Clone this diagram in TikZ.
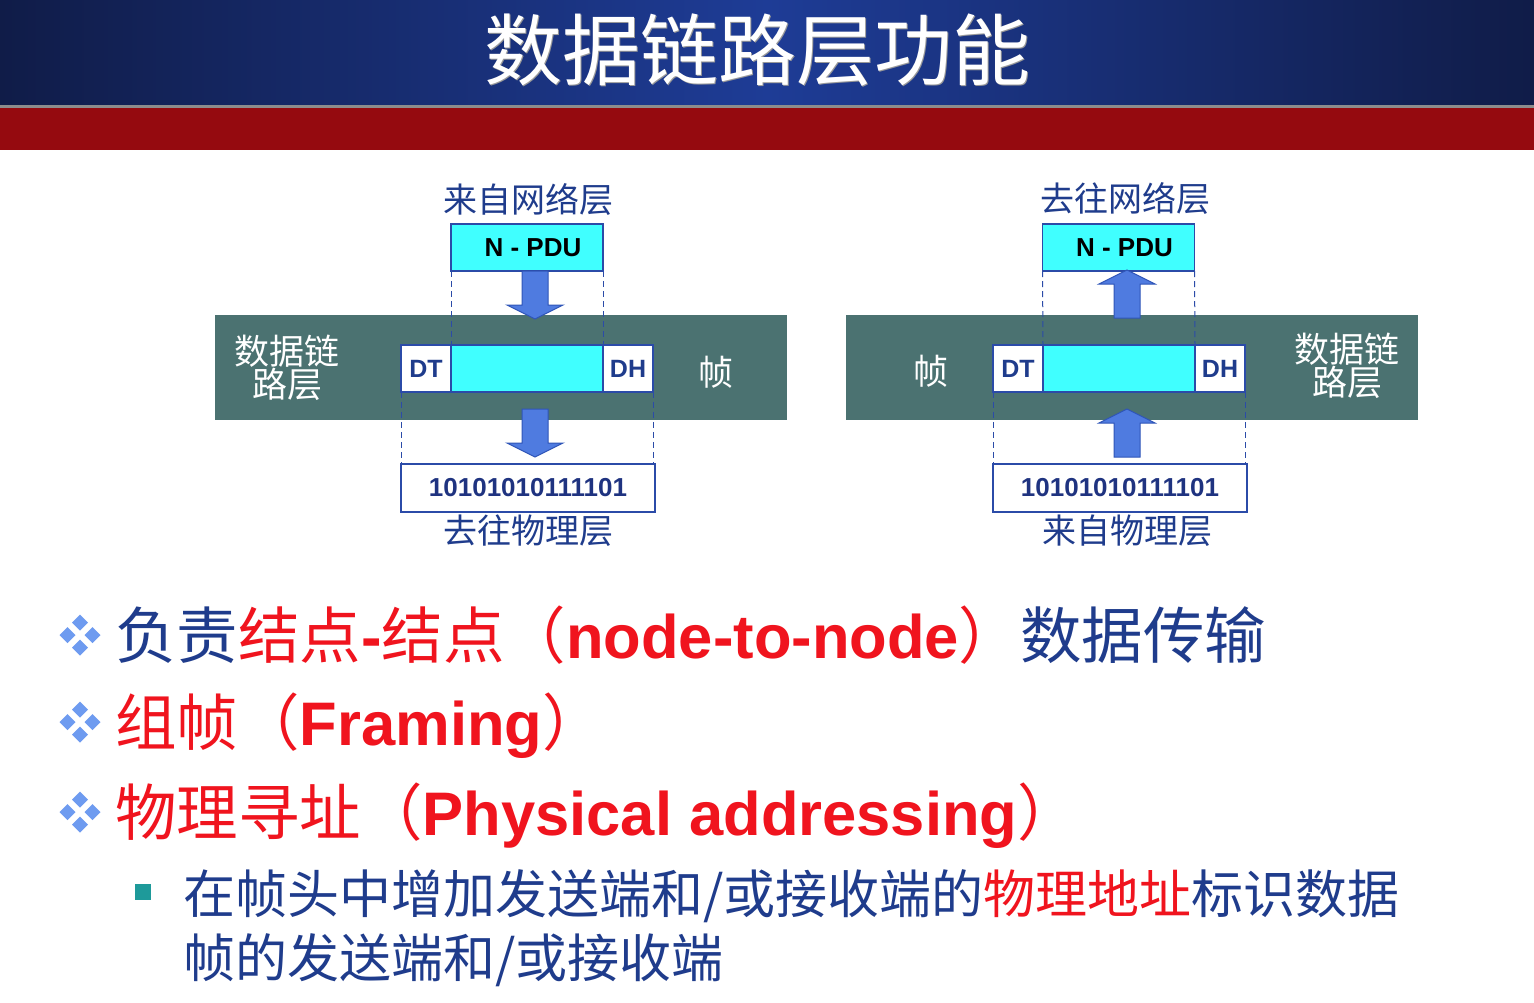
\documentclass[tikz,border=0pt]{standalone}
\usepackage{fontspec}
\setmainfont{Liberation Sans}
\newfontfamily\cjk{Noto Sans CJK SC}
\definecolor{tblue}{HTML}{1F3C8C}
\definecolor{tred}{HTML}{F0141E}
\definecolor{bandc}{HTML}{4B7271}
\definecolor{cyanc}{HTML}{40FFFF}
\definecolor{boxline}{HTML}{2B4BA8}
\definecolor{bitsblue}{HTML}{1F3380}
\definecolor{arrowfill}{HTML}{4F7BE0}
\definecolor{arrowline}{HTML}{2F55B8}
\definecolor{titleedge}{HTML}{101C48}
\definecolor{titlemid}{HTML}{1E3C96}
\definecolor{redband}{HTML}{950A0F}
\definecolor{tealc}{HTML}{1E9A9A}
\definecolor{diamondc}{HTML}{6E9BF0}
\begin{document}
\begin{tikzpicture}[x=1pt,y=-1pt,
  band/.style={fill=bandc, draw=none, minimum width=572pt, minimum height=105pt, inner sep=0pt},
  pdubox/.style={draw=boxline, line width=1.5pt, fill=cyanc, minimum width=152pt, minimum height=47pt,
    inner sep=0pt, outer sep=0pt, font=\fontsize{26}{30}\selectfont\bfseries, text=black},
  endbox/.style={draw=boxline, line width=1.5pt, fill=white, minimum width=50pt, minimum height=47pt,
    inner sep=0pt, outer sep=0pt, font=\fontsize{25}{30}\selectfont\bfseries, text=tblue},
  midbox/.style={draw=boxline, line width=1.5pt, fill=cyanc, minimum width=152pt, minimum height=47pt,
    inner sep=0pt, outer sep=0pt},
  bitsbox/.style={draw=boxline, line width=1.5pt, fill=white, minimum width=254pt, minimum height=48pt,
    inner sep=0pt, outer sep=0pt, font=\fontsize{26}{30}\selectfont\bfseries, text=bitsblue},
  guide/.style={draw=boxline, line width=1pt, dash pattern=on 6pt off 4pt},
  layerlabel/.style={font=\cjk\fontsize{34}{40}\selectfont, text=tblue, inner sep=0pt},
  bandlabel/.style={font=\cjk\fontsize{35}{33}\selectfont, text=white, align=center, inner sep=0pt},
  bulletline/.style={anchor=base west, inner sep=0pt, font=\fontsize{61.5}{70}\selectfont},
  subline/.style={anchor=base west, inner sep=0pt, font=\cjk\fontsize{52}{64}\selectfont, text=tblue},
  blockarrow/.pic={\path[fill=arrowfill, draw=arrowline, line width=1pt]
    (-13,0) -- (13,0) -- (13,34) -- (28,34) -- (0,48) -- (-28,34) -- (-13,34) -- cycle;},
  fourdiamond/.pic={\foreach \dx/\dy in {0/-12.5,-12.5/0,12.5/0,0/12.5}
    \fill[diamondc] (\dx,\dy) ++(0,-8) -- ++(8,8) -- ++(-8,8) -- ++(-8,-8) -- cycle;}
]
\useasboundingbox (0,0) rectangle (1534,1002);
\fill[white] (0,0) rectangle (1534,1002);

% header: blue gradient with title, grey rule, red band
\shade[left color=titleedge, right color=titleedge, middle color=titlemid] (0,0) rectangle (1534,106);
\fill[black!45!white] (0,105) rectangle (1534,108);
\fill[redband] (0,108) rectangle (1534,150);
\node[font=\cjk\fontsize{78}{80}\selectfont, text=black!40] (titleshadow) at (758.5,51.5) {数据链路层功能};
\node[font=\cjk\fontsize{78}{80}\selectfont, text=white] (title) at (757,50) {数据链路层功能};

% ---------- sending side ----------
\node[band] (bandL) at (501,367.5) {};
\node[bandlabel] (dllL) at (287,368) {数据链\\路层};
\node[bandlabel] (frameL) at (716,372) {帧};
\node[layerlabel] (fromNet) at (528,200) {来自网络层};
\node[pdubox] (npduL) at (527,247.5) {\hspace*{12pt}N - PDU};
\node[endbox] (dtL) at (426,368.5) {DT};
\node[midbox, anchor=west] (midL) at (dtL.east) {};
\node[endbox, anchor=west] (dhL) at (midL.east) {DH};
\node[bitsbox] (bitsL) at (528,488) {10101010111101};
\node[layerlabel] (toPhy) at (528,531) {去往物理层};
\draw[guide] (npduL.south west) -- (midL.north west);
\draw[guide] (npduL.south east) -- (midL.north east);
\draw[guide] (dtL.south west) -- (dtL.south west |- bitsL.north);
\draw[guide] (dhL.south east) -- (dhL.south east |- bitsL.north);
\pic at (535,271) {blockarrow};
\pic at (535,409) {blockarrow};

% ---------- receiving side ----------
\node[band] (bandR) at (1132,367) {};
\node[bandlabel] (frameR) at (931,371) {帧};
\node[bandlabel] (dllR) at (1347,366) {数据链\\路层};
\node[layerlabel] (toNet) at (1125,199) {去往网络层};
\node[pdubox] (npduR) at (1118.5,247.5) {\hspace*{12pt}N - PDU};
\node[endbox] (dtR) at (1018,368.5) {DT};
\node[midbox, anchor=west] (midR) at (dtR.east) {};
\node[endbox, anchor=west] (dhR) at (midR.east) {DH};
\node[bitsbox] (bitsR) at (1120,488) {10101010111101};
\node[layerlabel] (fromPhy) at (1127,531) {来自物理层};
\draw[guide] (npduR.south west) -- (midR.north west);
\draw[guide] (npduR.south east) -- (midR.north east);
\draw[guide] (dtR.south west) -- (dtR.south west |- bitsR.north);
\draw[guide] (dhR.south east) -- (dhR.south east |- bitsR.north);
\pic[rotate=180] at (1127,318) {blockarrow};
\pic[rotate=180] at (1127,457) {blockarrow};

% ---------- bullet list ----------
\pic at (80,635) {fourdiamond};
\pic at (80,722) {fourdiamond};
\pic at (80,812) {fourdiamond};
\node[bulletline] (item1) at (115,658)
  {{\cjk\color{tblue}负责}{\color{tred}{\cjk 结点}{\bfseries -}{\cjk 结点（}{\bfseries node-to-node}{\cjk ）}}{\cjk\color{tblue}数据传输}};
\node[bulletline, text=tred] (item2) at (115,745)
  {{\cjk 组帧（}{\bfseries Framing}{\cjk ）}};
\node[bulletline, text=tred] (item3) at (115,835)
  {{\cjk 物理寻址（}{\bfseries Physical addressing}{\cjk ）}};
\fill[tealc] (135,884) rectangle (151,900);
\node[subline] (sub1) at (183,913) {在帧头中增加发送端和/或接收端的{\color{tred}物理地址}标识数据};
\node[subline] (sub2) at (183,977) {帧的发送端和/或接收端};
\end{tikzpicture}
\end{document}
